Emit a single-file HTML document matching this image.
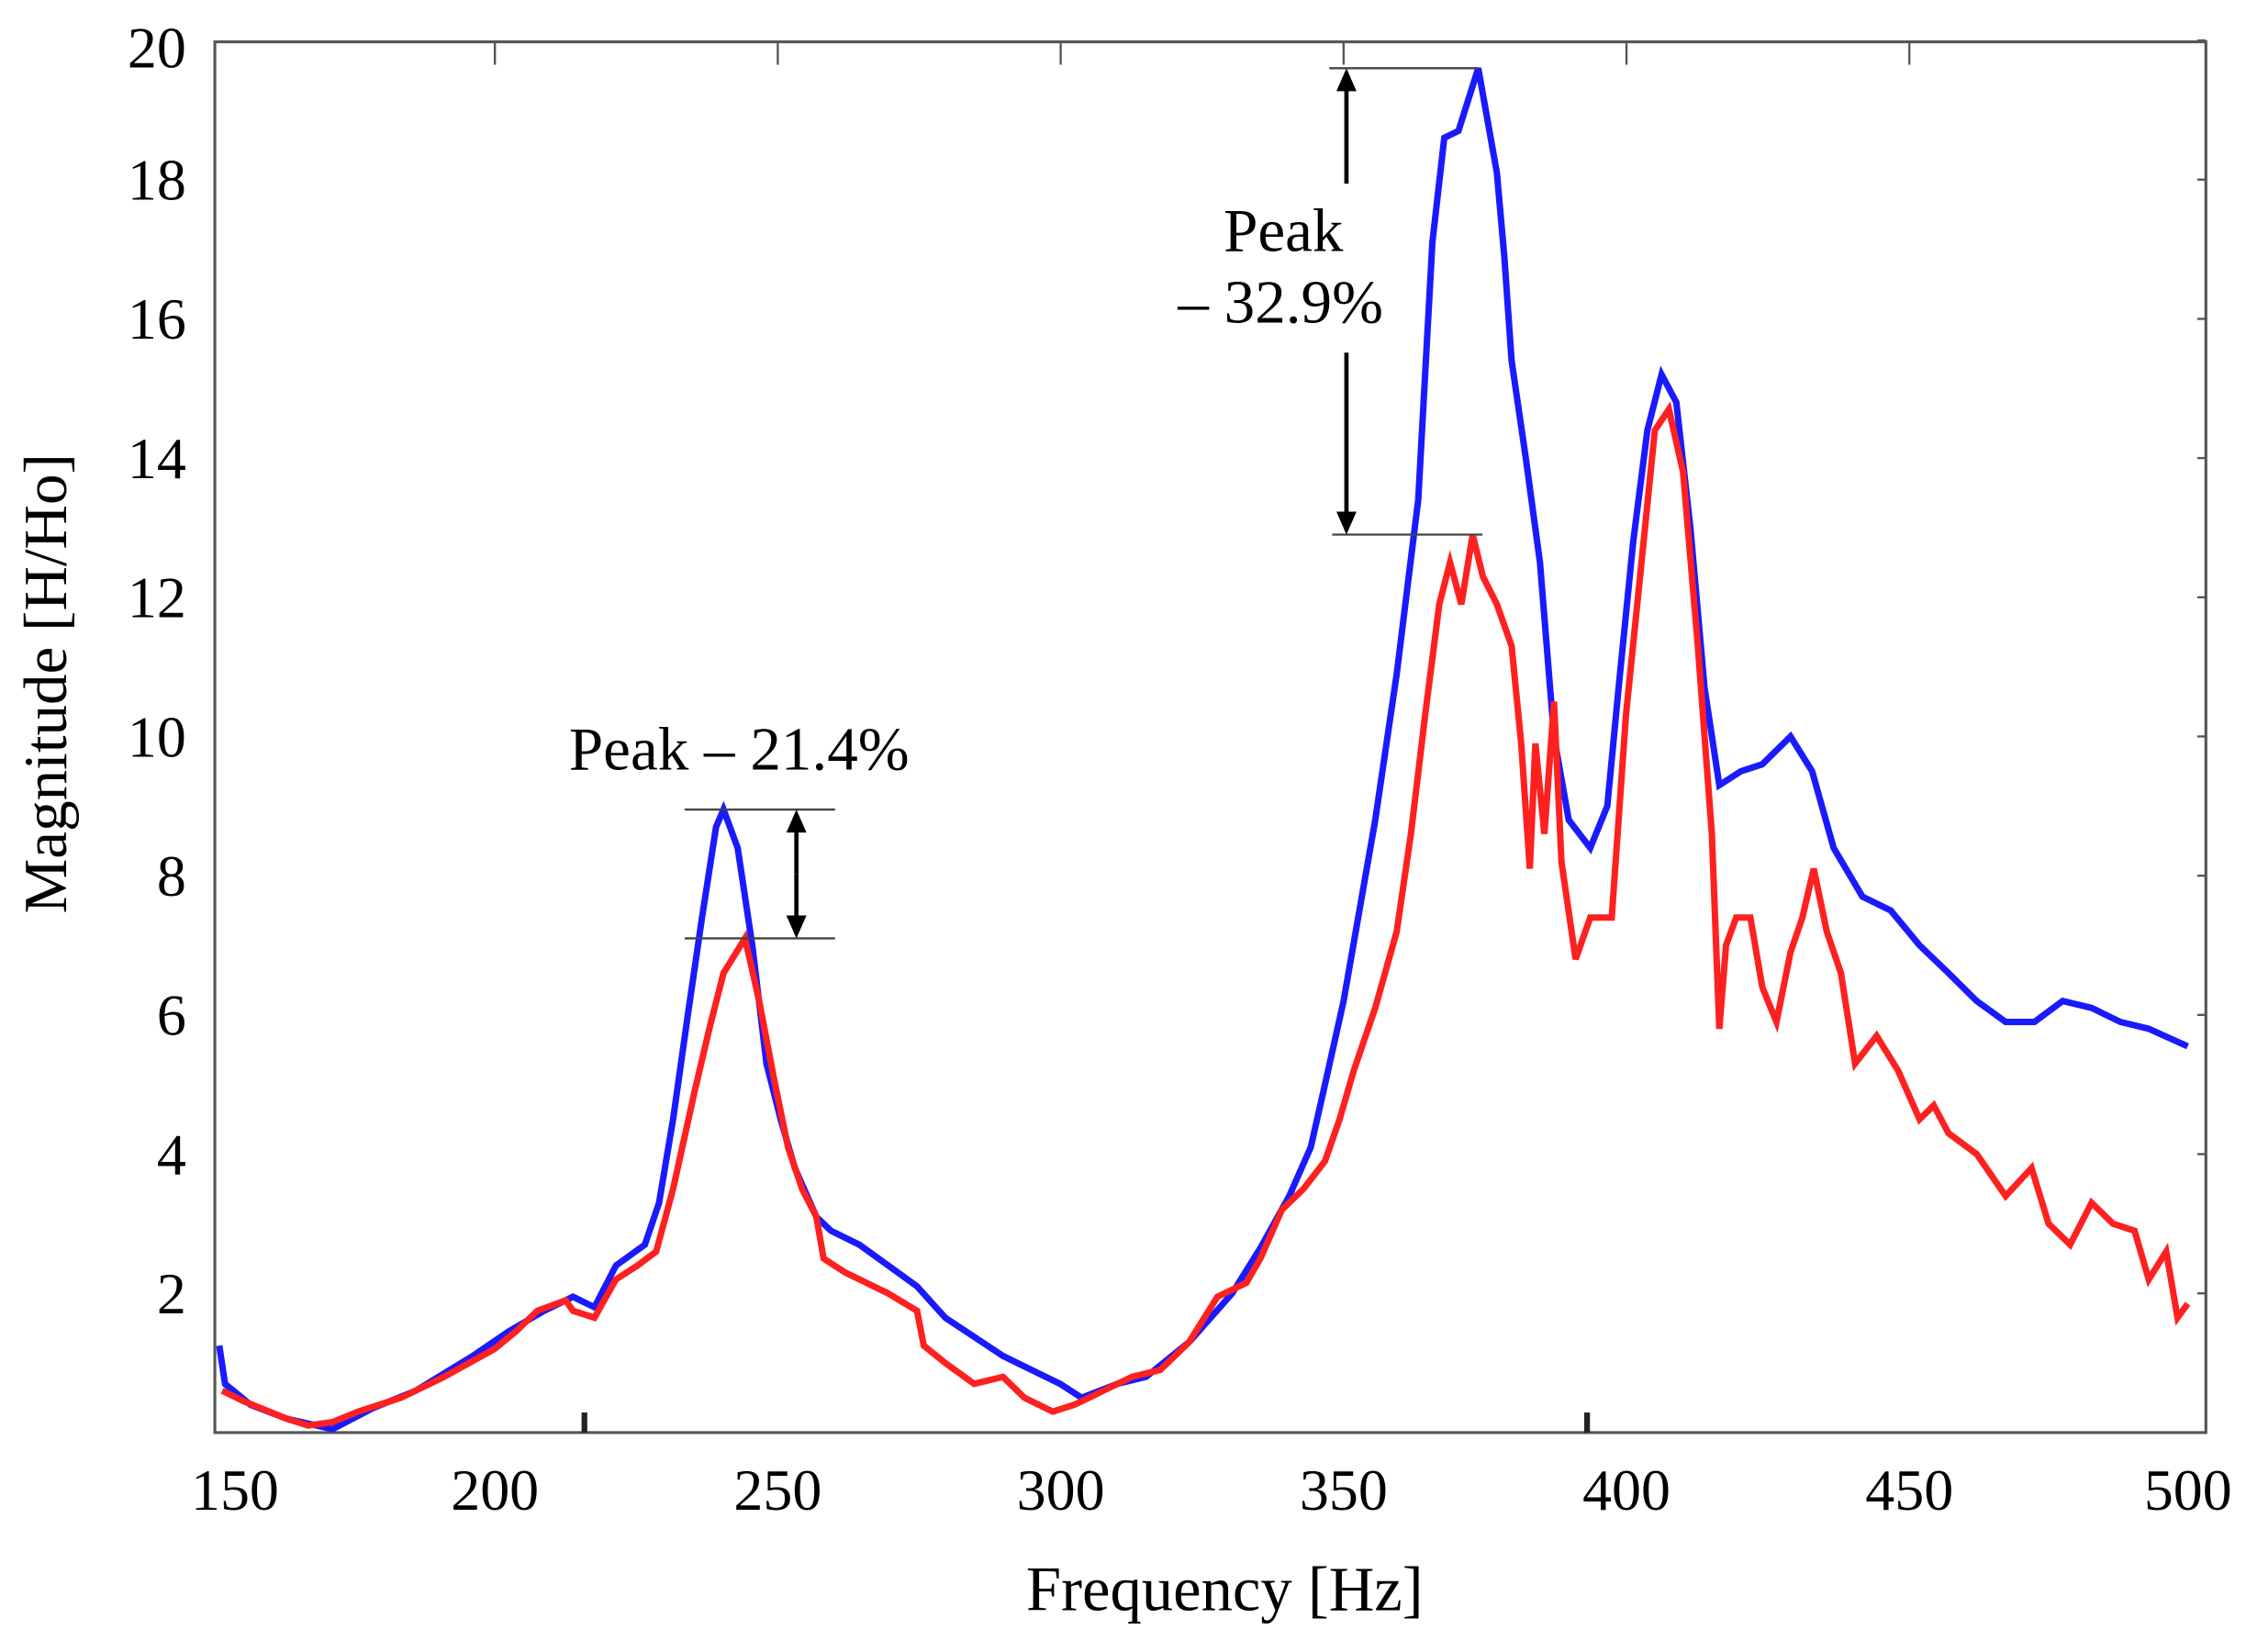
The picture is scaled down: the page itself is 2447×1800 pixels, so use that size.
<!DOCTYPE html>
<html><head><meta charset="utf-8"><style>
html,body{margin:0;padding:0;background:#fff;}
svg{display:block;}
text{font-family:"Liberation Serif",serif;fill:#000;}
</style></head><body>
<svg id="chart" width="2447" height="1800" viewBox="0 0 1568 1153" xmlns="http://www.w3.org/2000/svg">
<g id="axes"></g>
<g id="series"></g>
<g id="annot"></g>
<text x="855" y="1124" font-size="44" text-anchor="middle">Frequency [Hz]</text>
<text transform="translate(46,477) rotate(-90)" font-size="43" text-anchor="middle">Magnitude [H/Ho]</text>
</svg>
<script>
const xTicks = [150,200,250,300,350,400,450,500];
const yTicks = [2,4,6,8,10,12,14,16,18,20];
const blueFreq = [151.3,152.3,156.8,163.2,171.3,178.4,186,196.1,202.4,208.7,213.8,217.6,221.4,226.5,229,231.5,234.1,236.6,239.1,240.4,242.9,245.5,248,250.5,253,256.8,259.4,264.4,274.6,279.6,289.8,299.9,303.7,310,315.1,322.7,330.3,335.3,340.4,344.2,346.7,350,355.6,359.4,363.2,365.7,367.8,370.3,373.8,377.1,378.4,379.7,382.2,384.7,387.2,389.8,393.6,396.6,398.6,401.2,403.7,406.2,408.8,411.3,413.8,416.4,420.2,424,429,432.8,436.6,441.7,446.7,451.8,456.9,461.9,467,472.1,477.1,482.2,487.3,492.3,499.2];
const blueMag = [1.25,0.7,0.4,0.2,0.05,0.35,0.6,1.1,1.45,1.75,1.95,1.8,2.4,2.7,3.3,4.5,6.0,7.4,8.7,8.95,8.4,7.0,5.3,4.5,3.8,3.1,2.9,2.7,2.1,1.65,1.1,0.7,0.5,0.7,0.8,1.3,2.0,2.65,3.4,4.1,5.0,6.2,8.8,10.9,13.4,17.1,18.6,18.7,19.6,18.1,16.9,15.4,14.0,12.5,10.0,8.8,8.4,9.0,10.7,12.8,14.4,15.2,14.8,13.0,10.7,9.3,9.5,9.6,10.0,9.5,8.4,7.7,7.5,7.0,6.6,6.2,5.9,5.9,6.2,6.1,5.9,5.8,5.55];
const redFreq = [151.8,155.6,163.2,167,171.3,175.8,183.4,191,199.9,203.7,207.5,212.5,213.8,217.6,221.4,225.2,228.5,231.5,235.3,237.9,240.4,244.2,246.7,249.3,251.8,254.3,256.8,258.1,261.9,269.5,274.6,275.8,279.6,284.7,289.8,293.6,298.6,302.4,305,307.5,312.6,317.6,322.7,327.7,332.8,335.3,339.1,342.9,346.7,349.3,351.8,355.6,359.4,361.9,364.4,366.9,368.8,370.8,372.8,374.6,377.1,379.7,381.4,382.9,383.9,385.5,387.2,388.5,391,393.6,397.4,399.9,402.4,405,407.5,410,412.6,415.1,416.4,417.6,419.4,421.9,424,426.5,429,431.1,433.1,435.4,437.9,440.4,444.2,448,451.8,454.3,456.9,461.9,467,471.6,474.6,478.4,482.2,486,489.8,492.3,495.4,497.4,499.2];
const redMag = [0.6,0.45,0.2,0.1,0.15,0.3,0.5,0.8,1.2,1.45,1.75,1.9,1.75,1.65,2.2,2.4,2.6,3.5,4.9,5.8,6.6,7.1,6.2,5.1,4.1,3.5,3.1,2.5,2.3,2.0,1.75,1.25,1.0,0.7,0.8,0.5,0.3,0.4,0.5,0.6,0.8,0.9,1.3,1.95,2.15,2.5,3.2,3.5,3.9,4.5,5.2,6.1,7.2,8.6,10.3,11.9,12.5,11.9,12.9,12.3,11.9,11.3,9.9,8.1,9.9,8.6,10.5,8.2,6.8,7.4,7.4,10.3,12.3,14.4,14.7,13.8,11.3,8.6,5.8,7.0,7.4,7.4,6.4,5.9,6.9,7.4,8.1,7.2,6.6,5.3,5.7,5.2,4.5,4.7,4.3,4.0,3.4,3.8,3.0,2.7,3.3,3.0,2.9,2.2,2.6,1.65,1.85];

const NS='http://www.w3.org/2000/svg';
const L=150,R=1540,T=29,B=1000;
function sx(f){return 148+(f-150)*3.95;}
function sy(v){return 1000-v*48.6;}
function mk(tag,parent,attrs){const e=document.createElementNS(NS,tag);for(const k in attrs)e.setAttribute(k,attrs[k]);parent.appendChild(e);return e;}
const axes=document.getElementById('axes');
let fr=mk('rect',axes,{x:L,y:T,width:R-L,height:B-T,fill:'none',stroke:'#555','stroke-width':2});


xTicks.forEach(t=>{
  const x=sx(t);
  if(t>150&&t<500){const tk=mk('line',axes,{x1:x,x2:x,y1:T,y2:T+16,stroke:'#555','stroke-width':1.5});
  
  }
  const lb=mk('text',axes,{x:x+(t==150?16:t==500?-3:0),y:1054,'font-size':41,'text-anchor':'middle'});
  lb.textContent=t;
  
  
});
[408,1108].forEach(x=>{const m=mk('line',axes,{x1:x,x2:x,y1:986,y2:1000,stroke:'#222','stroke-width':4});

});
yTicks.forEach(t=>{
  const y=sy(t);
  const tk=mk('line',axes,{x1:R-6,x2:R,y1:y,y2:y,stroke:'#555','stroke-width':1.5});
  
  
  const lb=mk('text',axes,{x:130,y:y+(t==20?19:14),'font-size':41,'text-anchor':'end'});
  lb.textContent=t;
  
  
});
const series=document.getElementById('series');
function draw(fs,ms,color,name){
  const pts=fs.map((f,i)=>sx(f).toFixed(1)+','+sy(ms[i]).toFixed(1)).join(' ');
  const p=mk('polyline',series,{points:pts,fill:'none',stroke:color,'stroke-width':4.5,'stroke-linejoin':'miter'});
  
  
}
draw(blueFreq,blueMag,'#1a1aff','series-blue');
draw(redFreq,redMag,'#ff2020','series-red');

const an=document.getElementById('annot');
function hl(x1,x2,y,name){const l=mk('line',an,{x1:x1,x2:x2,y1:y,y2:y,stroke:'#444','stroke-width':1.5});

}
function arrowSeg(x,yFrom,yTo,name){
  const dir=yTo>yFrom?1:-1;
  const l=mk('line',an,{x1:x,x2:x,y1:yFrom,y2:yTo-dir*12,stroke:'#000','stroke-width':3});
  
  
  const h=mk('polygon',an,{points:`${x-7},${yTo-dir*16} ${x+7},${yTo-dir*16} ${x},${yTo}`,fill:'#000'});
  
  
}
function maxIn(fs,ms,a,b){let m=0;fs.forEach((f,i)=>{if(f>=a&&f<=b&&ms[i]>m)m=ms[i];});return m;}
const b1=sy(maxIn(blueFreq,blueMag,220,260)), r1=sy(maxIn(redFreq,redMag,220,260));
hl(478,583,b1,'peak1-blue-line');hl(478,583,r1,'peak1-red-line');
arrowSeg(556,(b1+r1)/2,b1,'peak1-arrow-up');arrowSeg(556,(b1+r1)/2,r1,'peak1-arrow-down');
const t1=mk('text',an,{x:516,y:537,'font-size':43,'text-anchor':'middle'});t1.textContent='Peak – 21.4%';


const b2=sy(maxIn(blueFreq,blueMag,350,395)), r2=sy(maxIn(redFreq,redMag,350,395));
hl(928,1032,b2,'peak2-blue-line');hl(930,1035,r2,'peak2-red-line');
arrowSeg(940,128,b2,'peak2-arrow-up');arrowSeg(940,246,r2,'peak2-arrow-down');
const t2=mk('text',an,{x:896,y:175,'font-size':43,'text-anchor':'middle'});t2.textContent='Peak';


const t3=mk('text',an,{x:894,y:225,'font-size':43,'text-anchor':'middle'});t3.textContent='– 32.9%';


</script>
</body></html>
